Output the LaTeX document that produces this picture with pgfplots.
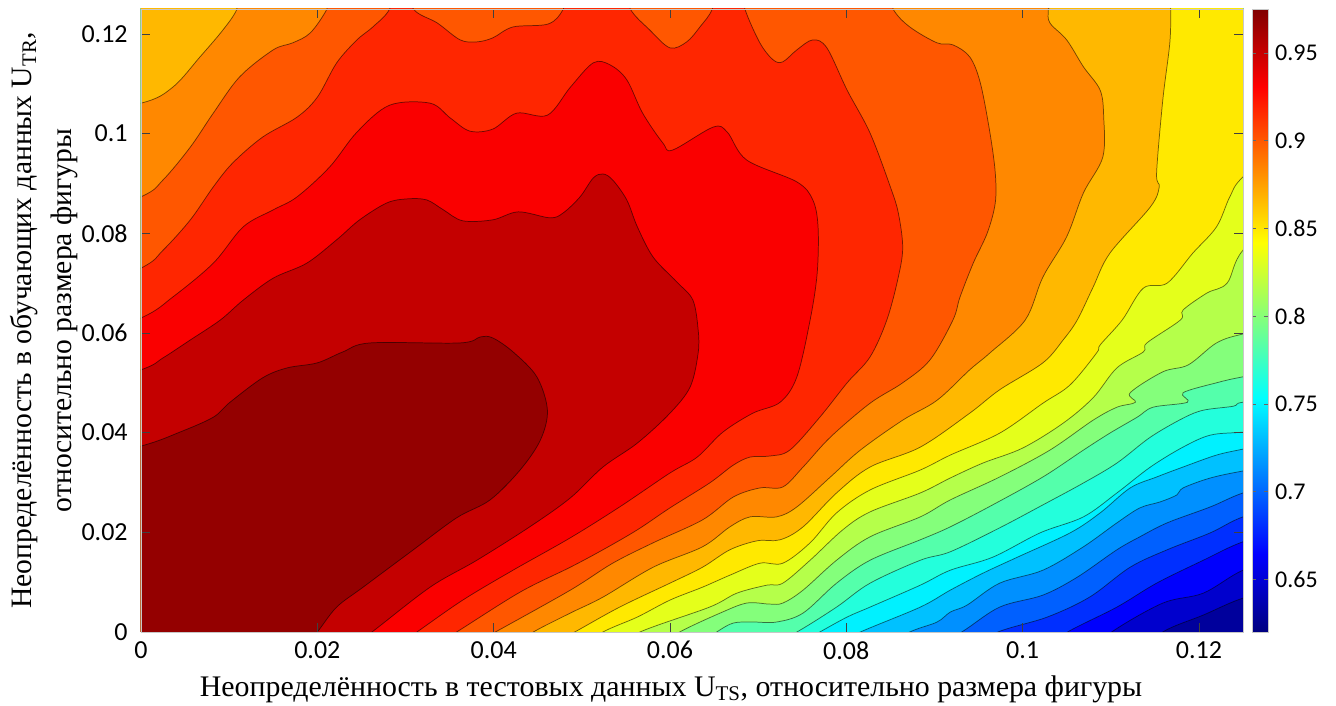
\documentclass[border=0pt]{standalone}
\usepackage{pgfplots}
\usepackage{fontspec}
\pgfplotsset{compat=1.18}
\setmainfont{Liberation Serif}
\newfontfamily\tickfont{Carlito}
\definecolor{b0}{RGB}{148,0,0}
\definecolor{b1}{RGB}{196,0,0}
\definecolor{b2}{RGB}{250,0,0}
\definecolor{b3}{RGB}{255,38,0}
\definecolor{b4}{RGB}{255,87,0}
\definecolor{b5}{RGB}{255,136,0}
\definecolor{b6}{RGB}{255,184,0}
\definecolor{b7}{RGB}{255,233,0}
\definecolor{b8}{RGB}{228,255,27}
\definecolor{b9}{RGB}{181,255,74}
\definecolor{b10}{RGB}{132,255,123}
\definecolor{b11}{RGB}{84,255,171}
\definecolor{b12}{RGB}{35,255,220}
\definecolor{b13}{RGB}{0,241,255}
\definecolor{b14}{RGB}{0,193,255}
\definecolor{b15}{RGB}{0,144,255}
\definecolor{b16}{RGB}{0,96,255}
\definecolor{b17}{RGB}{0,47,255}
\definecolor{b18}{RGB}{0,0,253}
\definecolor{b19}{RGB}{0,0,205}
\definecolor{b20}{RGB}{0,0,156}
\pgfplotsset{band/.style={fill=#1,draw=black,draw opacity=0.55,line width=0.55pt,smooth,tension=0.55}}
\begin{document}
\begin{tikzpicture}
\path[use as bounding box] (-105.75pt,-55.5pt) rectangle (896.25pt,474pt);
\begin{axis}[
  at={(0,0)},anchor=south west,
  scale only axis,width=826.5pt,height=467.25pt,
  xmin=0,xmax=0.125,ymin=0,ymax=0.125,
  axis on top,
  axis line style={black!22,line width=0.7pt},
  tick align=inside,major tick length=7pt,
  tick style={black!75,line width=0.6pt},
  xtick={0,0.02,0.04,0.06,0.08,0.1,0.12},
  ytick={0,0.02,0.04,0.06,0.08,0.1,0.12},
  xticklabels={0,0.02,0.04,0.06,0.08,0.1,0.12},
  yticklabels={0,0.02,0.04,0.06,0.08,0.1,0.12},
  tick label style={font=\tickfont\fontsize{19.5}{22}\selectfont},
  xticklabel style={yshift=-3.5pt},
  yticklabel style={xshift=-6.5pt},
  xlabel={Неопределённость в тестовых данных U\textsubscript{TS}, относительно размера фигуры},
  xlabel style={font=\fontsize{22.4}{26}\selectfont,at={(axis description cs:0.481,-0.0915)},anchor=center},
  ylabel={Неопределённость в обучающих данных U\textsubscript{TR},\\относительно размера фигуры},
  ylabel style={font=\fontsize{22.2}{30}\selectfont,align=center,at={(axis description cs:-0.0875,0.5)},anchor=center},
  colormap/jet,
  point meta min=0.62,point meta max=0.975,
  colorbar,
  colorbar shift/.style={xshift=6.75pt},
  colorbar style={
    width=12pt,
    ytick={0.65,0.7,0.75,0.8,0.85,0.9,0.95},
    yticklabels={0.65,0.7,0.75,0.8,0.85,0.9,0.95},
    major tick length=3pt,
    tick style={black!60},
    axis line style={black!22},
    yticklabel style={font=\tickfont\fontsize{18}{22}\selectfont,xshift=1.5pt},
    ymin=0.62,ymax=0.975,
  },
]
\addplot[fill=b20,draw=none] coordinates {(-0.01,-0.01)(0.14,-0.01)(0.14,0.14)(-0.01,0.14)};
% L20
\addplot[band=b19] coordinates {(0.1130,-0.005)(0.1159,0)(0.1205,0.0034)(0.125,0.0068)(0.131,0.0095)(0.135,0.135)(-0.01,0.135)(-0.01,-0.01)};
% L19
\addplot[band=b18] coordinates {(0.1070,-0.005)(0.1101,0)(0.1159,0.0058)(0.1205,0.0078)(0.125,0.0124)(0.131,0.016)(0.135,0.135)(-0.01,0.135)(-0.01,-0.01)};
% L18
\addplot[band=b17] coordinates {(0.1020,-0.004)(0.1051,0)(0.1107,0.0050)(0.1152,0.0098)(0.1205,0.0144)(0.125,0.0181)(0.131,0.021)(0.135,0.135)(-0.01,0.135)(-0.01,-0.01)};
% L17
\addplot[band=b16] coordinates {(0.0930,-0.004)(0.0972,0)(0.1028,0.0030)(0.1076,0.0070)(0.1122,0.0130)(0.1164,0.0165)(0.1213,0.0199)(0.125,0.0231)(0.131,0.026)(0.135,0.135)(-0.01,0.135)(-0.01,-0.01)};
% L16
\addplot[band=b15] coordinates {(0.0890,-0.004)(0.0931,0)(0.0974,0.0050)(0.1023,0.0074)(0.1062,0.0110)(0.1107,0.0165)(0.1133,0.0191)(0.1164,0.0219)(0.1213,0.0251)(0.125,0.0279)(0.131,0.031)(0.135,0.135)(-0.01,0.135)(-0.01,-0.01)};
% L15
\addplot[band=b14] coordinates {(0.0830,-0.004)(0.0872,0)(0.0903,0.0020)(0.0918,0.0040)(0.0937,0.0054)(0.0974,0.0098)(0.1023,0.0124)(0.1069,0.0171)(0.1107,0.0219)(0.1133,0.0249)(0.1156,0.0261)(0.1175,0.0275)(0.1182,0.0289)(0.1213,0.0309)(0.125,0.0323)(0.131,0.034)(0.135,0.135)(-0.01,0.135)(-0.01,-0.01)};
% L14
\addplot[band=b13] coordinates {(0.0770,-0.004)(0.0816,0)(0.0884,0.0050)(0.0918,0.0084)(0.0955,0.0118)(0.0994,0.0150)(0.1054,0.0199)(0.1088,0.0239)(0.1122,0.0289)(0.1152,0.0311)(0.1182,0.0331)(0.1220,0.0355)(0.125,0.0367)(0.131,0.039)(0.135,0.135)(-0.01,0.135)(-0.01,-0.01)};
% L13
\addplot[band=b12] coordinates {(0.0730,-0.004)(0.0770,0)(0.0801,0.0030)(0.0827,0.0050)(0.0884,0.0094)(0.0918,0.0124)(0.0966,0.0150)(0.1020,0.0199)(0.1069,0.0231)(0.1107,0.0279)(0.1145,0.0331)(0.1182,0.0371)(0.1213,0.0395)(0.125,0.0401)(0.131,0.041)(0.135,0.135)(-0.01,0.135)(-0.01,-0.01)};
% L12
\addplot[band=b11] coordinates {(0.0700,-0.004)(0.0744,0)(0.0789,0.0050)(0.0827,0.0098)(0.0884,0.0144)(0.0918,0.0161)(0.0974,0.0209)(0.1023,0.0255)(0.1069,0.0299)(0.1107,0.0339)(0.1145,0.0391)(0.1182,0.0429)(0.1205,0.0445)(0.1239,0.0453)(0.125,0.0461)(0.131,0.047)(0.135,0.135)(-0.01,0.135)(-0.01,-0.01)};
% L11
\addplot[band=b10] coordinates {(0.0620,-0.004)(0.0653,0)(0.0672,0.0018)(0.0694,0.0020)(0.0721,0.0020)(0.0751,0.0038)(0.0789,0.0098)(0.0827,0.0144)(0.0884,0.0185)(0.0918,0.0211)(0.0966,0.0255)(0.1023,0.0311)(0.1069,0.0365)(0.1099,0.0399)(0.1130,0.0431)(0.1148,0.0451)(0.1187,0.0461)(0.1182,0.0480)(0.1220,0.0500)(0.125,0.0512)(0.131,0.053)(0.135,0.135)(-0.01,0.135)(-0.01,-0.01)};
% L10
\addplot[band=b9] coordinates {(0.0575,-0.004)(0.0611,0)(0.0657,0.0038)(0.0687,0.0058)(0.0713,0.0056)(0.0728,0.0058)(0.0751,0.0084)(0.0789,0.0144)(0.0827,0.0191)(0.0884,0.0231)(0.0918,0.0265)(0.0974,0.0311)(0.1031,0.0365)(0.1080,0.0425)(0.1107,0.0451)(0.1128,0.0461)(0.1122,0.0480)(0.1159,0.0522)(0.1188,0.0536)(0.1220,0.0580)(0.125,0.0598)(0.131,0.062)(0.135,0.135)(-0.01,0.135)(-0.01,-0.01)};
% L9
\addplot[band=b8] coordinates {(0.0530,-0.004)(0.0566,0)(0.0645,0.0050)(0.0676,0.0078)(0.0710,0.0094)(0.0728,0.0098)(0.0759,0.0144)(0.0796,0.0205)(0.0827,0.0241)(0.0884,0.0279)(0.0918,0.0309)(0.0955,0.0339)(0.1000,0.0369)(0.1046,0.0419)(0.1080,0.0470)(0.1107,0.0530)(0.1137,0.0562)(0.1141,0.0580)(0.1179,0.0626)(0.1182,0.0646)(0.1209,0.0680)(0.1232,0.0700)(0.125,0.0766)(0.131,0.086)(0.135,0.135)(-0.01,0.135)(-0.01,-0.01)};
% L8
\addplot[band=b7] coordinates {(0.0490,-0.004)(0.0524,0)(0.0563,0.0030)(0.0600,0.0064)(0.0637,0.0090)(0.0668,0.0114)(0.0702,0.0138)(0.0728,0.0138)(0.0759,0.0179)(0.0789,0.0239)(0.0827,0.0285)(0.0884,0.0325)(0.0918,0.0355)(0.0974,0.0399)(0.1023,0.0459)(0.1054,0.0496)(0.1084,0.0560)(0.1088,0.0576)(0.1113,0.0626)(0.1137,0.0690)(0.1164,0.0700)(0.1193,0.0760)(0.1220,0.0813)(0.1235,0.0873)(0.125,0.0913)(0.131,0.100)(0.135,0.135)(-0.01,0.135)(-0.01,-0.01)};
% L7
\addplot[band=b6] coordinates {(0.0450,-0.004)(0.0492,0)(0.0543,0.0050)(0.0600,0.0098)(0.0637,0.0130)(0.0668,0.0165)(0.0699,0.0183)(0.0725,0.0185)(0.0751,0.0211)(0.0789,0.0279)(0.0827,0.0331)(0.0884,0.0371)(0.0940,0.0439)(0.0974,0.0486)(0.1023,0.0540)(0.1046,0.0586)(0.1062,0.0626)(0.1080,0.0692)(0.1099,0.0760)(0.1145,0.0853)(0.1155,0.0893)(0.1152,0.0921)(0.1159,0.1067)(0.1167,0.1182)(0.1168,0.125)(0.1168,0.131)(0.135,0.135)(-0.01,0.135)(-0.01,-0.01)};
% L6
\addplot[band=b5] coordinates {(-0.01,0.1030)(0,0.1061)(0.0036,0.1093)(0.0067,0.1154)(0.0093,0.1208)(0.0109,0.125)(0.0120,0.131)(0.1029,0.131)(0.1029,0.125)(0.1031,0.1222)(0.1050,0.1188)(0.1069,0.1134)(0.1088,0.1087)(0.1092,0.1033)(0.1091,0.0953)(0.1069,0.0881)(0.1050,0.0793)(0.1023,0.0712)(0.1003,0.0626)(0.0963,0.0560)(0.0940,0.0526)(0.0903,0.0465)(0.0864,0.0425)(0.0816,0.0365)(0.0782,0.0311)(0.0744,0.0251)(0.0721,0.0231)(0.0691,0.0231)(0.0668,0.0211)(0.0637,0.0171)(0.0581,0.0130)(0.0524,0.0070)(0.0487,0.0038)(0.0445,0)(0.0410,-0.004)(-0.01,-0.01)};
% L5
\addplot[band=b4] coordinates {(-0.01,0.0800)(0,0.0873)(0.0025,0.0907)(0.0056,0.0973)(0.0082,0.1041)(0.0112,0.1114)(0.0150,0.1168)(0.0172,0.1182)(0.0192,0.1202)(0.0211,0.125)(0.0225,0.131)(0.0840,0.131)(0.0853,0.125)(0.0872,0.1214)(0.0903,0.1182)(0.0921,0.1178)(0.0940,0.1154)(0.0952,0.1102)(0.0963,0.1001)(0.0969,0.0921)(0.0969,0.0861)(0.0960,0.0801)(0.0944,0.0740)(0.0929,0.0672)(0.0921,0.0626)(0.0895,0.0546)(0.0864,0.0500)(0.0827,0.0459)(0.0782,0.0391)(0.0751,0.0331)(0.0728,0.0291)(0.0702,0.0289)(0.0672,0.0271)(0.0637,0.0225)(0.0581,0.0179)(0.0535,0.0138)(0.0487,0.0084)(0.0402,0)(0.0360,-0.004)(-0.01,-0.01)};
% L4
\addplot[band=b3] coordinates {(-0.01,0.0650)(0,0.0730)(0.0025,0.0766)(0.0056,0.0827)(0.0082,0.0893)(0.0104,0.0941)(0.0138,0.0993)(0.0177,0.1033)(0.0200,0.1073)(0.0222,0.1142)(0.0245,0.1188)(0.0263,0.1214)(0.0282,0.125)(0.0290,0.131)(0.0300,0.131)(0.0309,0.125)(0.0336,0.1222)(0.0362,0.1188)(0.0381,0.1184)(0.0399,0.1192)(0.0422,0.1214)(0.0462,0.1220)(0.0479,0.125)(0.0490,0.131)(0.0545,0.131)(0.0555,0.125)(0.0577,0.1208)(0.0600,0.1172)(0.0619,0.1184)(0.0634,0.1214)(0.0648,0.125)(0.0655,0.131)(0.0678,0.131)(0.0685,0.125)(0.0702,0.1182)(0.0717,0.1148)(0.0728,0.1144)(0.0744,0.1168)(0.0762,0.1188)(0.0778,0.1172)(0.0801,0.1087)(0.0827,0.1001)(0.0850,0.0893)(0.0859,0.0841)(0.0864,0.0772)(0.0859,0.0712)(0.0846,0.0626)(0.0827,0.0552)(0.0801,0.0500)(0.0770,0.0431)(0.0736,0.0365)(0.0713,0.0353)(0.0691,0.0351)(0.0672,0.0335)(0.0645,0.0299)(0.0600,0.0249)(0.0563,0.0205)(0.0524,0.0165)(0.0487,0.0130)(0.0430,0.0080)(0.0358,0)(0.0320,-0.004)(-0.01,-0.01)};
% L3
\addplot[band=b2] coordinates {(-0.01,0.0560)(0,0.0630)(0.0036,0.0672)(0.0082,0.0740)(0.0116,0.0813)(0.0150,0.0847)(0.0177,0.0873)(0.0214,0.0933)(0.0245,0.1003)(0.0282,0.1057)(0.0328,0.1061)(0.0351,0.1031)(0.0373,0.1005)(0.0399,0.1009)(0.0426,0.1041)(0.0461,0.1037)(0.0487,0.1093)(0.0513,0.1142)(0.0532,0.1138)(0.0551,0.1108)(0.0569,0.1041)(0.0592,0.0981)(0.0603,0.0967)(0.0649,0.1013)(0.0665,0.1003)(0.0687,0.0947)(0.0744,0.0903)(0.0762,0.0867)(0.0768,0.0813)(0.0767,0.0720)(0.0759,0.0626)(0.0744,0.0512)(0.0725,0.0461)(0.0694,0.0439)(0.0660,0.0401)(0.0631,0.0351)(0.0600,0.0319)(0.0543,0.0251)(0.0487,0.0189)(0.0422,0.0124)(0.0365,0.0064)(0.0313,0)(0.0280,-0.004)(-0.01,-0.01)};
% L2
\addplot[band=b1] coordinates {(-0.01,0.0470)(0,0.0526)(0.0025,0.0550)(0.0056,0.0586)(0.0090,0.0626)(0.0116,0.0666)(0.0150,0.0710)(0.0188,0.0740)(0.0222,0.0787)(0.0248,0.0827)(0.0279,0.0861)(0.0302,0.0869)(0.0324,0.0867)(0.0343,0.0847)(0.0365,0.0825)(0.0399,0.0827)(0.0428,0.0843)(0.0464,0.0831)(0.0479,0.0841)(0.0498,0.0873)(0.0513,0.0911)(0.0524,0.0919)(0.0535,0.0907)(0.0551,0.0867)(0.0563,0.0813)(0.0581,0.0752)(0.0608,0.0702)(0.0626,0.0666)(0.0632,0.0606)(0.0632,0.0560)(0.0623,0.0492)(0.0600,0.0439)(0.0563,0.0379)(0.0524,0.0331)(0.0487,0.0269)(0.0441,0.0211)(0.0381,0.0144)(0.0328,0.0090)(0.0262,0)(0.0230,-0.004)(-0.01,-0.01)};
% L1
\addplot[band=b0] coordinates {(-0.01,0.0330)(0,0.0373)(0.0044,0.0401)(0.0082,0.0431)(0.0101,0.0461)(0.0138,0.0510)(0.0166,0.0530)(0.0200,0.0540)(0.0229,0.0562)(0.0260,0.0580)(0.0362,0.0580)(0.0385,0.0592)(0.0399,0.0590)(0.0422,0.0562)(0.0449,0.0512)(0.0461,0.0445)(0.0453,0.0385)(0.0430,0.0325)(0.0396,0.0265)(0.0358,0.0229)(0.0309,0.0165)(0.0252,0.0090)(0.0222,0.0050)(0.0200,0)(0.0180,-0.004)(-0.01,-0.01)};
\end{axis}
\end{tikzpicture}
\end{document}
